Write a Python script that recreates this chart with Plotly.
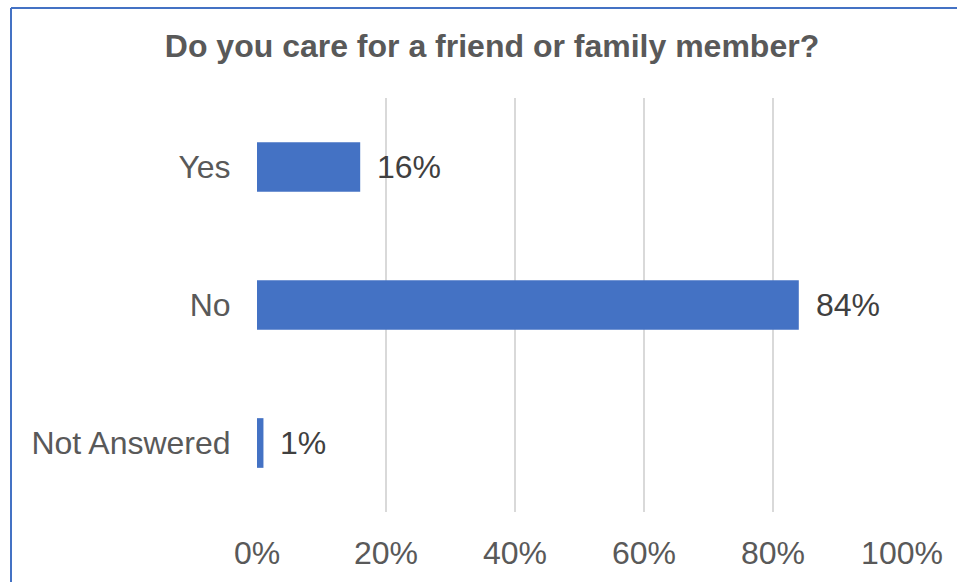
import plotly.graph_objects as go

# Survey responses (share of respondents)
categories = ["Yes", "No", "Not Answered"]
shares = [0.16, 0.84, 0.01]
label_texts = ["16%", "84%", "1%"]

x_ticks = [0, 0.2, 0.4, 0.6, 0.8, 1.0]
x_tick_labels = ["0%", "20%", "40%", "60%", "80%", "100%"]

title_text = "Do you care for a friend or family member?"

BAR_BLUE = "#4472C4"
GRID = "#D9D9D9"
FONT = "Liberation Sans, Arial, sans-serif"

W, H = 957, 582
L, R, T, B = 257, 55, 98, 70

fig = go.Figure(
    go.Bar(
        x=shares,
        y=categories,
        orientation="h",
        marker=dict(color=BAR_BLUE, line=dict(width=0)),
        hoverinfo="skip",
    )
)

# value labels to the right of each bar
for cat, val, txt in zip(categories, shares, label_texts):
    fig.add_annotation(
        x=val, y=cat, text=txt, showarrow=False,
        xanchor="left", yanchor="middle", xshift=15,
        font=dict(family=FONT, size=32, color="#404040"),
    )

# chart frame (top and left edges visible)
pw = W - L - R
ph = H - T - B
def px_to_paper_x(px):
    return (px - L) / pw
def px_to_paper_y(py):
    return (H - B - py) / ph

fig.add_shape(
    type="line", xref="paper", yref="paper",
    x0=px_to_paper_x(11), x1=px_to_paper_x(W + 5),
    y0=px_to_paper_y(8), y1=px_to_paper_y(8),
    line=dict(color=BAR_BLUE, width=2),
)
fig.add_shape(
    type="line", xref="paper", yref="paper",
    x0=px_to_paper_x(11), x1=px_to_paper_x(11),
    y0=px_to_paper_y(8), y1=px_to_paper_y(H + 5),
    line=dict(color=BAR_BLUE, width=2),
)

fig.update_layout(
    width=W, height=H,
    margin=dict(l=L, r=R, t=T, b=B, autoexpand=False),
    paper_bgcolor="white",
    plot_bgcolor="white",
    bargap=0.64,
    showlegend=False,
    title=dict(
        text="<b>" + title_text + "</b>",
        x=px_to_paper_x(492), xref="paper", xanchor="center",
        y=1 - 46 / H, yanchor="middle",
        font=dict(family=FONT, size=32, color="#595959"),
    ),
    font=dict(family=FONT, color="#595959"),
)

fig.update_xaxes(
    range=[0, 1.0],
    tickvals=x_ticks,
    ticktext=x_tick_labels,
    showgrid=True, gridcolor=GRID, gridwidth=2,
    zeroline=False, showline=False,
    ticks="outside", ticklen=13, tickcolor="rgba(0,0,0,0)",
    tickfont=dict(family=FONT, size=32, color="#595959"),
    automargin=False,
    fixedrange=True,
)
fig.update_yaxes(
    autorange="reversed",
    showgrid=False, zeroline=False, showline=False,
    ticks="outside", ticklen=19, tickcolor="rgba(0,0,0,0)",
    tickfont=dict(family=FONT, size=32, color="#595959"),
    automargin=False,
    fixedrange=True,
)

fig.write_html("out.html")
